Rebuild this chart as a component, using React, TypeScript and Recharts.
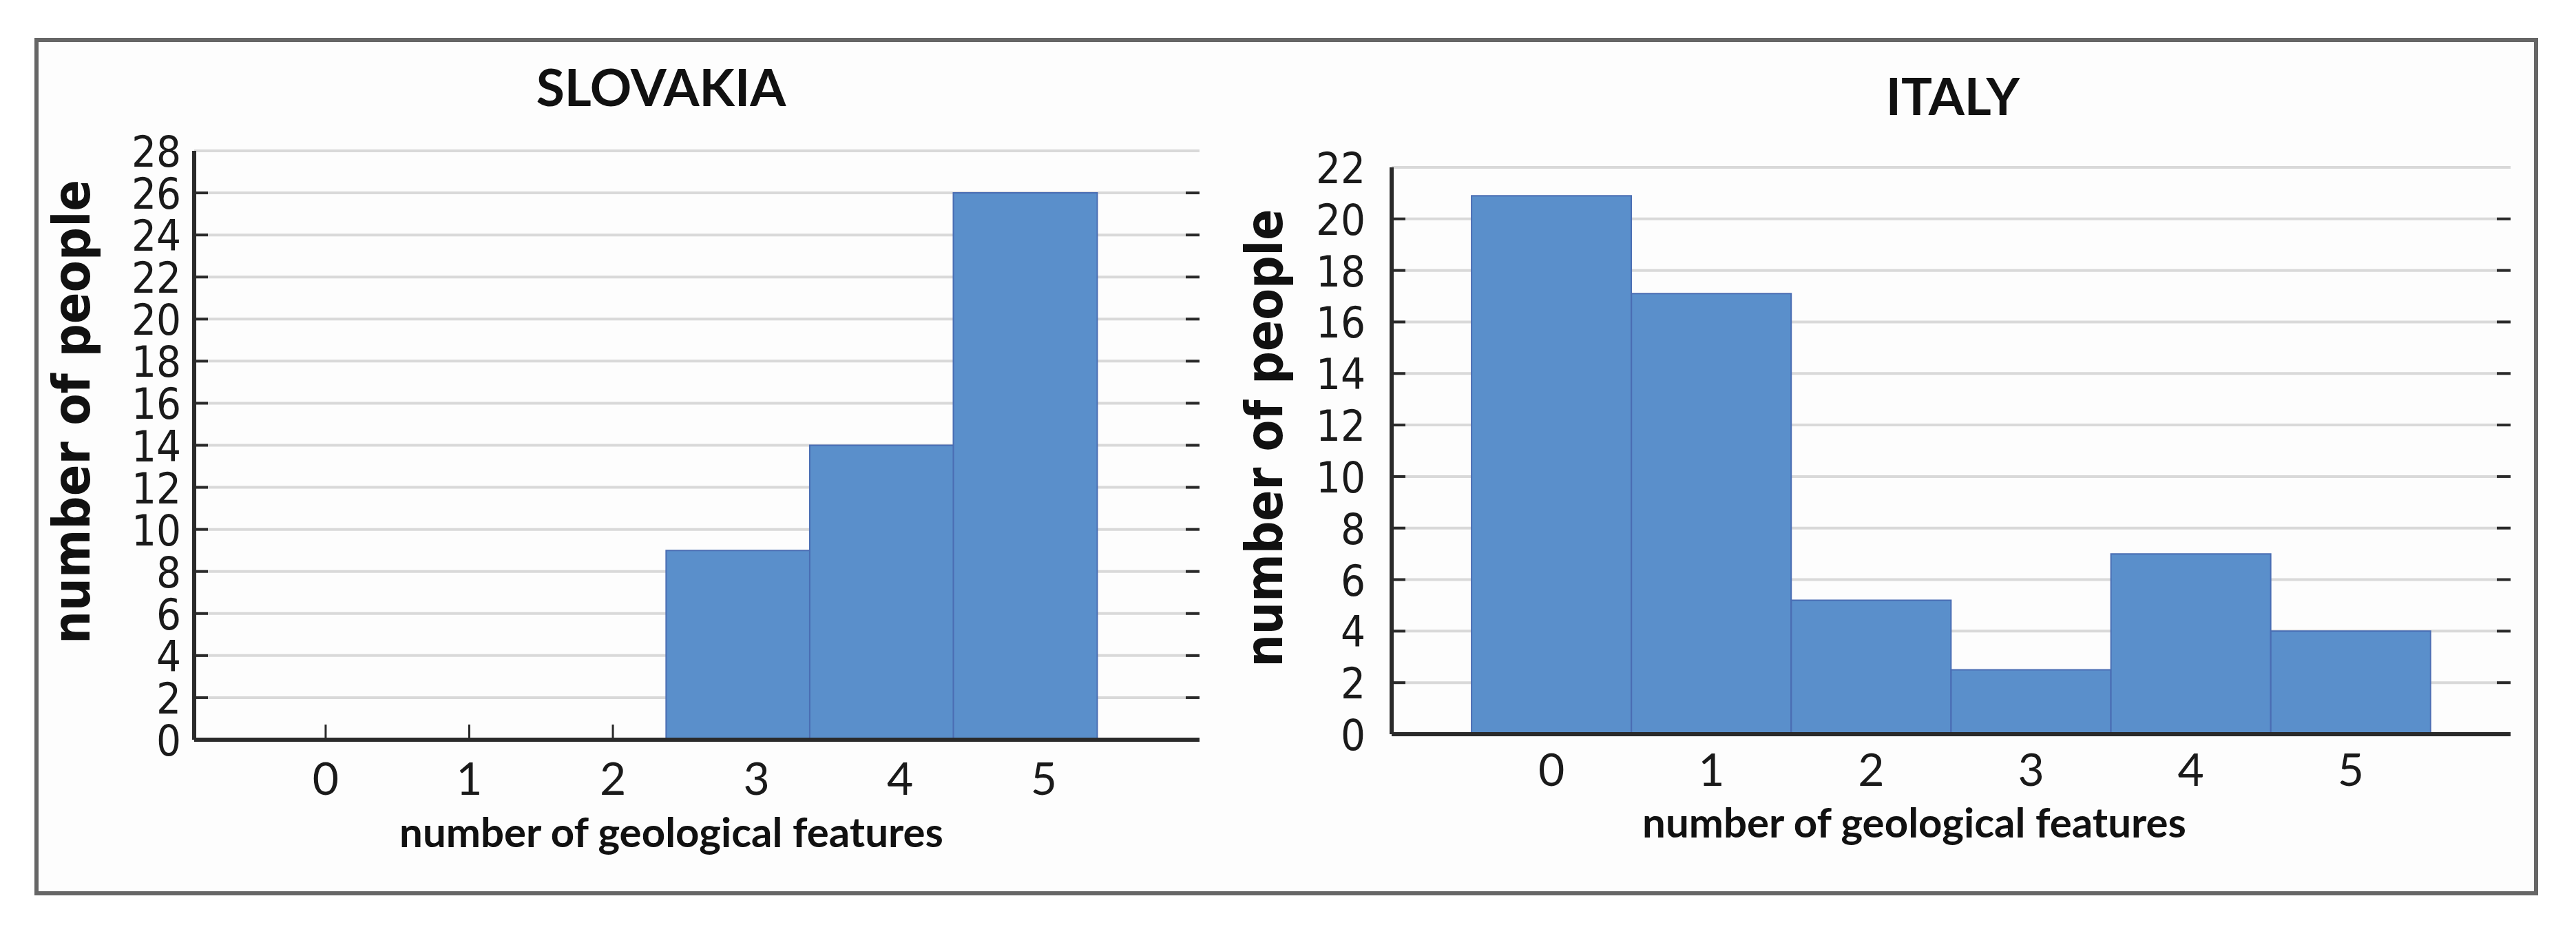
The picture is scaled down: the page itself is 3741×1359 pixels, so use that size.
import React from 'react';
import { BarChart, Bar, XAxis, YAxis, CartesianGrid } from 'recharts';

// ---------- data ----------
const categories = [0, 1, 2, 3, 4, 5];
const slovakiaPeople = [0, 0, 0, 9, 14, 26];
const italyPeople = [20.9, 17.1, 5.2, 2.5, 7, 4];
const slovakiaYTicks = [0, 2, 4, 6, 8, 10, 12, 14, 16, 18, 20, 22, 24, 26, 28];
const italyYTicks = [0, 2, 4, 6, 8, 10, 12, 14, 16, 18, 20, 22];
// visible x range, in category units (axis runs from xMin to xMax)
const slovakiaXRange = [-0.786, 6.214];
const italyXRange = [-1, 6];
const titles = ['SLOVAKIA', 'ITALY'];
const xAxisTitle = 'number of geological features';
const yAxisTitle = 'number of people';

// ---------- style ----------
const BAR_FILL = '#5a8fcb';
const BAR_STROKE = '#4a6db3';
const GRID = '#d9d9d9';
const AXIS = '#2a2a2a';
const TICK_FONT = "'DejaVu Sans Condensed', 'DejaVu Sans', sans-serif";
const LABEL_FONT = "Lato, 'Open Sans', sans-serif";
const H = 1359;

type Panel = {
  left: number;
  width: number;
  plot: { left: number; right: number; top: number; bottom: number };
  range: number[];
  yTicks: number[];
  values: number[];
  labelShift: number;
  labelBaseline: number;
  yLabelRight: number;
};

const panels: Panel[] = [
  {
    left: 0,
    width: 1750,
    plot: { left: 282, right: 1742, top: 219, bottom: 1074 },
    range: slovakiaXRange,
    yTicks: slovakiaYTicks,
    values: slovakiaPeople,
    labelShift: 27,
    labelBaseline: 80,
    yLabelRight: 263,
  },
  {
    left: 1750,
    width: 1991,
    plot: { left: 271, right: 1896, top: 243, bottom: 1066 },
    range: italyXRange,
    yTicks: italyYTicks,
    values: italyPeople,
    labelShift: 0,
    labelBaseline: 75,
    yLabelRight: 233,
  },
];

function PanelChart({ p }: { p: Panel }) {
  const data = categories.map((c, i) => ({ x: c, people: p.values[i] }));
  const plotW = p.plot.right - p.plot.left;
  const unit = plotW / (p.range[1] - p.range[0]);
  // band padding so that category c sits at its place in the visible range
  const padLeft = (categories[0] - 0.5 - p.range[0]) * unit;
  const padRight = (p.range[1] - (categories[categories.length - 1] + 0.5)) * unit;
  const yMax = p.yTicks[p.yTicks.length - 1];

  const BottomTick = (props: any) => {
    const { x, payload } = props;
    const idx = categories.indexOf(payload.value);
    const covered = idx >= 0 && p.values[idx] > 0;
    const tx = x + p.labelShift;
    return (
      <g>
        {!covered && (
          <line x1={tx} x2={tx} y1={p.plot.bottom} y2={p.plot.bottom - 22} stroke={AXIS} strokeWidth={3} />
        )}
        <text
          x={tx}
          y={p.plot.bottom + p.labelBaseline}
          textAnchor="middle"
          fontFamily={LABEL_FONT}
          fontSize={66}
          fill="#1a1a1a"
        >
          {payload.value}
        </text>
      </g>
    );
  };

  const TopTick = (props: any) => {
    const { x } = props;
    return <line x1={x} x2={x} y1={p.plot.top} y2={p.plot.top + 24} stroke={AXIS} strokeWidth={3} />;
  };

  const LeftTick = (props: any) => {
    const { y, payload } = props;
    const inner = payload.value !== 0 && payload.value !== yMax;
    return (
      <g>
        {inner && (
          <>
            <line x1={p.plot.left} x2={p.plot.left + 20} y1={y} y2={y} stroke={AXIS} strokeWidth={4} />
            <line x1={p.plot.right - 20} x2={p.plot.right} y1={y} y2={y} stroke={AXIS} strokeWidth={4} />
          </>
        )}
        <text
          x={p.yLabelRight}
          y={y}
          dy={23}
          textAnchor="end"
          fontFamily={TICK_FONT}
          fontStretch="condensed"
          fontSize={63}
          fill="#1a1a1a"
        >
          {payload.value}
        </text>
      </g>
    );
  };

  return (
    <div style={{ position: 'absolute', left: p.left, top: 0, width: p.width, height: H }}>
      <BarChart
        width={p.width}
        height={H}
        data={data}
        margin={{ top: p.plot.top, right: p.width - p.plot.right, bottom: 0, left: 0 }}
        barCategoryGap={0}
        barGap={0}
      >
        <CartesianGrid vertical={false} stroke={GRID} strokeWidth={4} />
        <XAxis
          dataKey="x"
          type="category"
          padding={{ left: padLeft, right: padRight }}
          height={H - p.plot.bottom}
          axisLine={{ stroke: AXIS, strokeWidth: 6 }}
          tickLine={false}
          tick={<BottomTick />}
          interval={0}
        />
        <XAxis
          xAxisId="top"
          dataKey="x"
          type="category"
          orientation="top"
          padding={{ left: padLeft, right: padRight }}
          height={0}
          axisLine={{ stroke: '#111', strokeWidth: 5 }}
          tickLine={false}
          tick={<TopTick />}
          interval={0}
        />
        <YAxis
          type="number"
          domain={[0, yMax]}
          ticks={p.yTicks}
          width={p.plot.left}
          axisLine={{ stroke: AXIS, strokeWidth: 6 }}
          tickLine={false}
          tick={<LeftTick />}
          interval={0}
        />
        <YAxis
          yAxisId="right"
          orientation="right"
          type="number"
          domain={[0, yMax]}
          ticks={p.yTicks}
          width={0}
          axisLine={{ stroke: AXIS, strokeWidth: 5 }}
          tickLine={false}
          tick={false}
        />
        <Bar
          dataKey="people"
          fill={BAR_FILL}
          stroke={BAR_STROKE}
          strokeWidth={2}
          isAnimationActive={false}
        />
      </BarChart>
    </div>
  );
}

export default function App() {
  return (
    <div style={{ position: 'absolute', left: 0, top: 0, width: 3741, height: H, background: '#ffffff', overflow: 'hidden' }}>
      <div
        style={{
          position: 'absolute',
          left: 50,
          top: 55,
          width: 3636,
          height: 1245,
          border: '6px solid #666666',
          boxSizing: 'border-box',
          background: '#fdfdfd',
        }}
      />
      {panels.map((p, i) => (
        <PanelChart key={i} p={p} />
      ))}
      <svg
        width={3741}
        height={H}
        style={{ position: 'absolute', left: 0, top: 0, pointerEvents: 'none' }}
      >
        <text x={960} y={154} textAnchor="middle" fontFamily={LABEL_FONT} fontWeight={700} fontSize={75} fill="#111">
          {titles[0]}
        </text>
        <text x={2836} y={167} textAnchor="middle" fontFamily={LABEL_FONT} fontWeight={700} fontSize={75} fill="#111">
          {titles[1]}
        </text>
        <text x={975} y={1230} textAnchor="middle" fontFamily={LABEL_FONT} fontWeight={700} fontSize={60} fill="#111">
          {xAxisTitle}
        </text>
        <text x={2780} y={1216} textAnchor="middle" fontFamily={LABEL_FONT} fontWeight={700} fontSize={60} fill="#111">
          {xAxisTitle}
        </text>
        <text
          x={130}
          y={598}
          transform="rotate(-90 130 598)"
          textAnchor="middle"
          fontFamily={TICK_FONT}
          fontStretch="condensed"
          fontWeight={700}
          fontSize={75}
          fill="#111"
        >
          {yAxisTitle}
        </text>
        <text
          x={1862}
          y={636}
          transform="rotate(-90 1862 636)"
          textAnchor="middle"
          fontFamily={TICK_FONT}
          fontStretch="condensed"
          fontWeight={700}
          fontSize={74}
          fill="#111"
        >
          {yAxisTitle}
        </text>
      </svg>
    </div>
  );
}
